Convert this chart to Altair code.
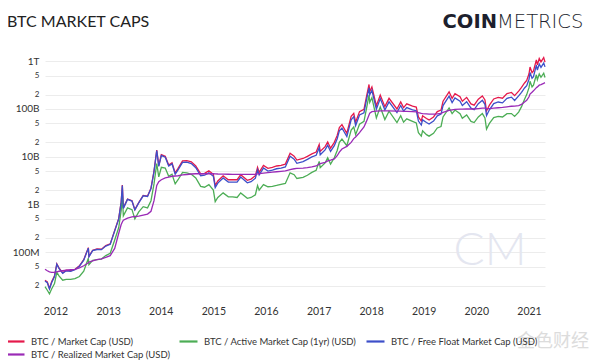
import altair as alt
import pandas as pd

# ---- data (USD billions) ----
dates = [
    "2011-10-20", "2011-11-05", "2011-11-20", "2011-12-05", "2011-12-25",
    "2012-01-10", "2012-01-25", "2012-02-20", "2012-03-15", "2012-04-15",
    "2012-05-15", "2012-06-15", "2012-07-15", "2012-08-16", "2012-08-20",
    "2012-09-15", "2012-10-15", "2012-11-15", "2012-12-15", "2013-01-15",
    "2013-02-15", "2013-03-15", "2013-04-01", "2013-04-09", "2013-04-16",
    "2013-05-15", "2013-06-15", "2013-07-05", "2013-08-01", "2013-09-01",
    "2013-10-01", "2013-10-25", "2013-11-15", "2013-12-04", "2013-12-18",
    "2014-01-05", "2014-02-01", "2014-02-25", "2014-03-20", "2014-04-11",
    "2014-05-01", "2014-06-01", "2014-07-01", "2014-08-01", "2014-09-01",
    "2014-10-05", "2014-11-01", "2014-12-01", "2015-01-01", "2015-01-14",
    "2015-02-01", "2015-03-10", "2015-04-15", "2015-05-15", "2015-06-15",
    "2015-07-10", "2015-08-25", "2015-09-20", "2015-10-20", "2015-11-04",
    "2015-11-15", "2015-12-15", "2016-01-15", "2016-02-15", "2016-03-15",
    "2016-04-15", "2016-05-15", "2016-06-17", "2016-07-15", "2016-08-03",
    "2016-09-15", "2016-10-15", "2016-11-15", "2016-12-15", "2017-01-05",
    "2017-01-12", "2017-02-15", "2017-03-05", "2017-03-25", "2017-04-20",
    "2017-05-10", "2017-05-25", "2017-06-12", "2017-07-16", "2017-08-15",
    "2017-09-02", "2017-09-15", "2017-10-12", "2017-11-12", "2017-11-29",
    "2017-12-17", "2017-12-22", "2018-01-06", "2018-02-06", "2018-03-05",
    "2018-04-06", "2018-05-05", "2018-06-29", "2018-07-25", "2018-08-14",
    "2018-09-05", "2018-10-15", "2018-11-10", "2018-11-25", "2018-12-15",
    "2018-12-24", "2019-01-20", "2019-02-07", "2019-03-10", "2019-04-05",
    "2019-05-01", "2019-05-15", "2019-06-26", "2019-07-17", "2019-08-06",
    "2019-09-10", "2019-09-26", "2019-10-26", "2019-11-25", "2019-12-17",
    "2020-01-15", "2020-02-12", "2020-03-01", "2020-03-12", "2020-04-01",
    "2020-05-01", "2020-06-01", "2020-07-01", "2020-08-01", "2020-09-01",
    "2020-09-23", "2020-10-21", "2020-11-10", "2020-12-01", "2020-12-16",
    "2021-01-01", "2021-01-08", "2021-01-22", "2021-02-01", "2021-02-21",
    "2021-02-28", "2021-03-13", "2021-03-25", "2021-04-13", "2021-04-22",
]

market_cap = [
    0.026, 0.024, 0.0175, 0.024, 0.032,
    0.057, 0.047, 0.037, 0.042, 0.041,
    0.044, 0.052, 0.070, 0.125, 0.082,
    0.110, 0.117, 0.116, 0.138, 0.150,
    0.285, 0.510, 1.14, 2.55, 0.85,
    1.30, 1.20, 0.78, 1.10, 1.55,
    1.50, 2.20, 5.0, 13.8, 6.5,
    11.0, 10.2, 6.7, 7.5, 4.6,
    5.7, 8.2, 8.3, 7.8, 6.4,
    4.4, 4.5, 5.1, 4.3, 2.5,
    3.1, 4.0, 3.3, 3.3, 3.3,
    4.2, 3.2, 3.4, 4.0, 6.0,
    4.7, 6.6, 5.7, 6.0, 6.4,
    6.6, 7.0, 11.8, 10.3, 8.5,
    9.2, 10.2, 11.5, 12.5, 18.0,
    12.9, 16.3, 20.5, 15.1, 20.0,
    28.0, 41.0, 47.0, 31.0, 70.0,
    81.0, 53.0, 88.0, 98.0, 180.0,
    326.0, 231.0, 289.0, 117.0, 195.0,
    112.0, 167.0, 100.0, 141.0, 107.0,
    128.0, 115.0, 110.0, 68.0, 56.0,
    72.0, 63.0, 59.0, 68.0, 88.0,
    95.0, 145.0, 229.0, 167.0, 210.0,
    180.0, 145.0, 175.0, 128.0, 120.0,
    160.0, 188.0, 155.0, 91.0, 120.0,
    162.0, 175.0, 168.0, 210.0, 222.0,
    190.0, 237.0, 282.0, 350.0, 395.0,
    545.0, 755.0, 573.0, 624.0, 1070.0,
    842.0, 1140.0, 970.0, 1190.0, 960.0,
]

free_float = [
    0.025, 0.023, 0.017, 0.023, 0.031,
    0.056, 0.046, 0.036, 0.041, 0.040,
    0.043, 0.051, 0.068, 0.122, 0.080,
    0.108, 0.114, 0.113, 0.135, 0.147,
    0.280, 0.500, 1.12, 2.50, 0.83,
    1.28, 1.18, 0.77, 1.08, 1.52,
    1.47, 2.16, 4.9, 13.5, 6.3,
    10.7, 9.8, 6.4, 7.1, 4.3,
    5.3, 7.6, 7.7, 7.2, 5.9,
    4.0, 4.1, 4.6, 3.9, 2.25,
    2.8, 3.6, 2.95, 2.95, 2.95,
    3.75, 2.85, 3.0, 3.55, 5.3,
    4.15, 5.8, 5.0, 5.25, 5.6,
    5.75, 6.1, 10.2, 8.9, 7.3,
    7.9, 8.8, 9.9, 10.7, 15.4,
    11.0, 13.9, 17.5, 12.9, 17.0,
    23.8, 34.8, 40.0, 26.4, 59.5,
    69.0, 45.0, 75.0, 83.5, 153.0,
    278.0, 197.0, 246.0, 99.0, 165.0,
    95.0, 141.0, 84.0, 118.0, 90.0,
    107.0, 96.0, 92.0, 56.0, 46.0,
    59.0, 52.0, 48.5, 56.0, 72.0,
    78.0, 118.0, 186.0, 136.0, 171.0,
    146.0, 118.0, 142.0, 104.0, 97.0,
    129.0, 152.0, 125.0, 73.0, 96.0,
    130.0, 140.0, 134.0, 167.0, 177.0,
    151.0, 188.0, 223.0, 275.0, 308.0,
    420.0, 580.0, 440.0, 475.0, 825.0,
    650.0, 875.0, 745.0, 915.0, 760.0,
]

active_1yr = [
    0.019, 0.016, 0.0135, 0.017, 0.022,
    0.038, 0.032, 0.026, 0.027, 0.027,
    0.028, 0.031, 0.040, 0.075, 0.055,
    0.068, 0.070, 0.072, 0.085, 0.095,
    0.180, 0.330, 0.75, 1.55, 0.58,
    0.85, 0.78, 0.50, 0.70, 0.90,
    0.85, 1.20, 2.7, 7.2, 3.8,
    6.0, 5.8, 3.9, 4.3, 2.7,
    3.3, 4.7, 4.6, 4.3, 3.6,
    2.4, 2.3, 2.6, 2.0, 1.15,
    1.4, 1.75, 1.45, 1.45, 1.40,
    1.75, 1.35, 1.40, 1.60, 2.5,
    2.0, 2.6, 2.35, 2.4, 2.5,
    2.65, 2.75, 4.6, 4.2, 3.5,
    3.7, 4.1, 4.7, 5.2, 8.0,
    5.9, 7.4, 9.5, 7.0, 9.5,
    13.5, 20.0, 23.5, 17.0, 36.0,
    42.0, 29.0, 48.0, 55.0, 100.0,
    195.0, 138.0, 172.0, 65.0, 110.0,
    60.0, 90.0, 52.0, 72.0, 53.0,
    62.0, 55.0, 51.0, 32.0, 27.0,
    35.0, 29.0, 27.0, 31.0, 40.0,
    43.0, 68.0, 105.0, 80.0, 95.0,
    80.0, 64.0, 75.0, 55.0, 52.0,
    68.0, 80.0, 65.0, 38.0, 50.0,
    66.0, 70.0, 68.0, 80.0, 80.0,
    70.0, 86.0, 112.0, 160.0, 200.0,
    280.0, 380.0, 290.0, 315.0, 520.0,
    410.0, 540.0, 460.0, 560.0, 455.0,
]

realized = [
    0.044, 0.041, 0.039, 0.038, 0.038,
    0.039, 0.040, 0.041, 0.042, 0.043,
    0.044, 0.047, 0.052, 0.060, 0.062,
    0.066, 0.070, 0.073, 0.078, 0.085,
    0.120, 0.250, 0.38, 0.43, 0.47,
    0.52, 0.55, 0.56, 0.57, 0.60,
    0.63, 0.72, 1.20, 2.50, 3.00,
    3.30, 3.60, 3.75, 3.90, 3.95,
    4.00, 4.15, 4.25, 4.35, 4.40,
    4.40, 4.40, 4.40, 4.40, 4.38,
    4.35, 4.33, 4.30, 4.28, 4.27,
    4.27, 4.27, 4.27, 4.30, 4.38,
    4.42, 4.55, 4.65, 4.75, 4.85,
    4.95, 5.05, 5.40, 5.60, 5.70,
    5.80, 5.90, 6.10, 6.40, 7.00,
    7.20, 7.60, 8.20, 8.50, 9.00,
    10.5, 12.5, 14.5, 16.5, 20.0,
    24.0, 26.0, 32.0, 42.0, 55.0,
    75.0, 82.0, 88.0, 90.0, 91.0,
    91.0, 91.0, 90.0, 90.0, 89.0,
    89.0, 88.0, 87.0, 84.0, 81.0,
    80.0, 79.0, 78.0, 78.0, 79.0,
    81.0, 85.0, 93.0, 96.0, 98.0,
    99.0, 99.0, 100.0, 100.0, 100.0,
    102.0, 104.0, 104.0, 102.0, 102.0,
    104.0, 106.0, 108.0, 111.0, 114.0,
    115.0, 118.0, 125.0, 140.0, 152.0,
    180.0, 205.0, 225.0, 240.0, 280.0,
    290.0, 315.0, 325.0, 345.0, 355.0,
]

series_names = [
    "BTC / Market Cap (USD)",
    "BTC / Active Market Cap (1yr) (USD)",
    "BTC / Free Float Market Cap (USD)",
    "BTC / Realized Market Cap (USD)",
]
series_colors = ["#e5194b", "#4cad55", "#3d4fc9", "#9a2ab6"]
y_ticks = [20000000, 50000000, 100000000, 200000000, 500000000,
           1000000000, 2000000000, 5000000000, 10000000000, 20000000000,
           50000000000, 100000000000, 200000000000, 500000000000,
           1000000000000]
year_ticks = list(range(2012, 2022))

rows = []
for name, vals in zip(series_names, [market_cap, active_1yr, free_float, realized]):
    for d, v in zip(dates, vals):
        rows.append({"date": d, "series": name, "value": v * 1e9})
df = pd.DataFrame(rows)

major_test = ("datum.value == 100000000 || datum.value == 1000000000 || "
              "datum.value == 10000000000 || datum.value == 100000000000 || "
              "datum.value == 1000000000000")
label_expr = ("datum.value == 100000000 ? '100M' : datum.value == 1000000000 ? '1B' : "
              "datum.value == 10000000000 ? '10B' : datum.value == 100000000000 ? '100B' : "
              "datum.value == 1000000000000 ? '1T' : substring(toString(datum.value), 0, 1)")

lines = alt.Chart(df).mark_line(strokeWidth=1.3).encode(
    x=alt.X(
        "date:T",
        title=None,
        scale=alt.Scale(domain=["2011-10-20", "2021-04-22"]),
        axis=alt.Axis(
            values=[alt.DateTime(year=y, month=1, date=1) for y in year_ticks],
            format="%Y", grid=False, ticks=False, tickSize=0, domain=False,
            labelPadding=6, labelFontSize=10.5, labelColor="#333333", labelFont="Lato",
        ),
    ),
    y=alt.Y(
        "value:Q",
        title=None,
        scale=alt.Scale(type="log", domain=[1e7, 1.35e12], nice=False),
        axis=alt.Axis(
            values=y_ticks, labelExpr=label_expr, grid=True, gridColor="#ececec",
            ticks=False, tickSize=0, domain=False, labelPadding=6,
            labelFont="Lato", labelColor="#333333",
            labelFontSize={"condition": {"test": major_test, "value": 10}, "value": 8},
        ),
    ),
    color=alt.Color(
        "series:N",
        scale=alt.Scale(domain=series_names, range=series_colors),
        legend=alt.Legend(
            title=None, orient="none", legendX=-37, legendY=279,
            direction="horizontal", columns=3, gridAlign="each",
            symbolType="M-1.5,0H1.5", symbolStrokeWidth=2.2, symbolSize=144,
            labelFont="Lato", labelFontSize=9.5, labelColor="#333333",
            columnPadding=5, rowPadding=1, labelOffset=8, padding=0,
            labelLimit=300,
        ),
    ),
)

title_text = alt.Chart(pd.DataFrame({"t": ["BTC MARKET CAPS"]})).mark_text(
    align="left", baseline="middle", font="Lato", fontSize=16, color="#222222"
).encode(x=alt.value(-38), y=alt.value(-33), text="t:N")

logo_bold = alt.Chart(pd.DataFrame({"t": ["COIN"]})).mark_text(
    align="right", baseline="middle", font="DejaVu Sans", fontWeight="bold",
    fontSize=19.5, color="#1d1f2e"
).encode(x=alt.value(452), y=alt.value(-33), text="t:N")

logo_light = alt.Chart(pd.DataFrame({"t": ["METRICS"]})).mark_text(
    align="left", baseline="middle", font="DejaVu Sans", fontWeight=200,
    fontSize=19.5, color="#1d1f2e"
).encode(x=alt.value(452), y=alt.value(-33), text="t:N")

cm_mark = alt.Chart(pd.DataFrame({"t": ["CM"]})).mark_text(
    align="center", baseline="middle", font="Lato", fontWeight=300,
    fontSize=46, color="#e4e6f0"
).encode(x=alt.value(445), y=alt.value(196), text="t:N")

wm = alt.Chart(pd.DataFrame({"t": ["金色财经"]})).mark_text(
    align="left", baseline="middle", font="Noto Sans CJK SC",
    fontSize=18, color="#d4d4d4", opacity=0.8
).encode(x=alt.value(472), y=alt.value(287), text="t:N")

chart = alt.layer(cm_mark, lines, title_text, logo_bold, logo_light, wm).properties(
    width=500,
    height=245,
    autosize=alt.AutoSizeParams(type="none"),
    padding={"left": 37, "top": 47, "right": 47, "bottom": 62},
).configure_view(stroke=None)

chart.save("out.html", embed_options={"renderer": "svg", "actions": False})
